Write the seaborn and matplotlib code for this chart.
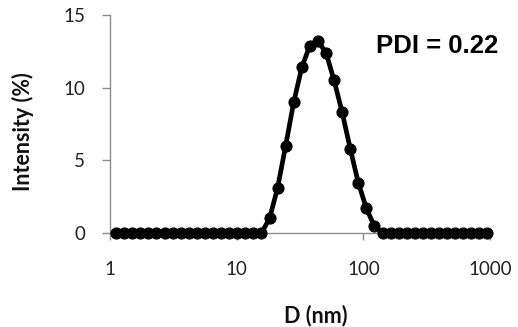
import matplotlib
matplotlib.use("Agg")
import matplotlib.pyplot as plt
import seaborn as sns
import numpy as np
import pandas as pd

# Size bins (nm), Malvern-style log bins
diameters = [1.117, 1.294, 1.499, 1.736, 2.01, 2.328, 2.696, 3.122, 3.615, 4.187,
             4.849, 5.615, 6.503, 7.531, 8.721, 10.1, 11.7, 13.54, 15.69, 18.17,
             21.04, 24.36, 28.21, 32.67, 37.84, 43.82, 50.75, 58.77, 68.06, 78.82,
             91.28, 105.7, 122.4, 141.8, 164.2, 190.1, 220.2, 255.0, 295.3, 342.0,
             396.1, 458.7, 531.2, 615.1, 712.4, 825.0, 955.4]
intensity = [0, 0, 0, 0, 0, 0, 0, 0, 0, 0,
             0, 0, 0, 0, 0, 0, 0, 0, 0, 1.0,
             3.1, 6.0, 9.0, 11.4, 12.9, 13.2, 12.4, 10.5, 8.3, 5.8,
             3.45, 1.7, 0.45, 0, 0, 0, 0, 0, 0, 0,
             0, 0, 0, 0, 0, 0, 0]
x_ticks = [1, 10, 100, 1000]
x_tick_labels = ["1", "10", "100", "1000"]
y_ticks = [0, 5, 10, 15]
annotation = "PDI = 0.22"

df = pd.DataFrame({"D": diameters, "I": intensity})

sns.set_theme(style="white")
plt.rcParams['font.family'] = ['Lato', 'DejaVu Sans']

fig = plt.figure(figsize=(5.18, 3.27), dpi=100)
ax = fig.add_axes([110/518, 1-233/327, 380/518, 218/327])

sns.lineplot(data=df, x="D", y="I", ax=ax, color="black", linewidth=3.4,
             marker="o", markersize=8, markeredgecolor="black", clip_on=False,
             zorder=3)

ax.set_xscale("log")
ax.set_xlim(1, 1000)
ax.set_ylim(0, 15)
ax.set_xticks(x_ticks)
ax.set_xticklabels(x_tick_labels)
ax.minorticks_off()
ax.set_yticks(y_ticks)

gray = "#8c8c8c"
for s in ["top", "right"]:
    ax.spines[s].set_visible(False)
for s in ["left", "bottom"]:
    ax.spines[s].set_color(gray)
    ax.spines[s].set_linewidth(1.0)

ax.tick_params(axis="x", direction="out", length=5, width=1, color=gray,
               labelsize=13.5, pad=15, labelcolor="#222222")
ax.tick_params(axis="y", direction="out", length=6, width=1, color=gray,
               labelsize=13.5, pad=12, labelcolor="#222222")
ax.tick_params(bottom=True, left=True)

ax.set_xlabel("D (nm)", fontsize=15.5, fontweight="bold", color="#111111")
ax.set_ylabel("Intensity (%)", fontsize=15.5, fontweight="bold", color="#111111")
ax.xaxis.set_label_coords((316-110)/380, (233-305)/218)
ax.yaxis.set_label_coords((34-110)/380, (233-132)/218)

ax.text((376-110)/380, (233-46)/218, annotation, transform=ax.transAxes,
        ha="left", va="center", fontsize=18.5, fontweight="bold",
        family=["Liberation Sans", "DejaVu Sans"], color="black")

ax.set_facecolor("white")
fig.patch.set_facecolor("white")
fig.savefig("out.png", dpi=100, facecolor="white")
